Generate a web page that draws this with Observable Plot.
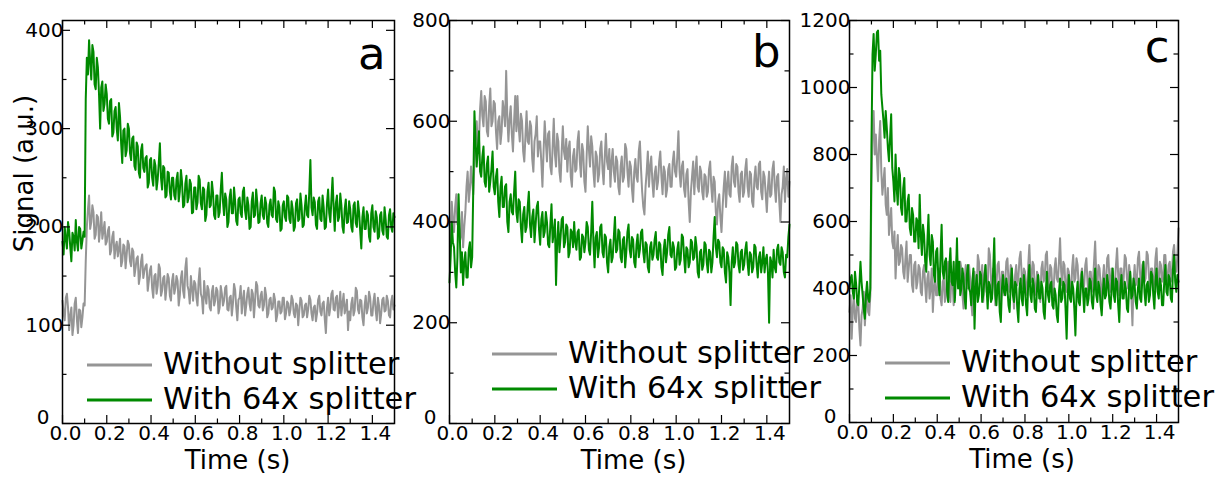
<!DOCTYPE html>
<html><head><meta charset="utf-8">
<script src="https://cdn.jsdelivr.net/npm/d3@7"></script>
<script src="https://cdn.jsdelivr.net/npm/@observablehq/plot@0.6"></script>
<style>
html,body{margin:0;padding:0;background:#fff;}
#chart{position:relative;width:1231px;height:482px;overflow:hidden;font-family:"DejaVu Sans",sans-serif;}
#chart svg{position:absolute;left:0;top:0;overflow:visible;background:transparent;max-width:none;}
</style></head><body><div id="chart"></div>
<script>
// ---- data (sampled every 0.005 s from t = 0.000 to 1.500; one row = 0.1 s) ----
const timeStep = 0.005;
const seriesNames = ["Without splitter", "With 64x splitter"];
const seriesColors = ["#959595", "#008a00"];
const panelLetters = ["a", "b", "c"];
const xMajorTicks = [0, 0.2, 0.4, 0.6, 0.8, 1.0, 1.2, 1.4];
const xMinorTicks = [0.1, 0.3, 0.5, 0.7, 0.9, 1.1, 1.3];
const yMajorA = [0, 100, 200, 300, 400];
const yMinorA = [50, 150, 250, 350];
const yMajorB = [0, 200, 400, 600, 800];
const yMinorB = [100, 300, 500, 700];
const yMajorC = [0, 200, 400, 600, 800, 1000, 1200];
const yMinorC = [100, 300, 500, 700, 900, 1100];

const aWithout = [
125,112,105,128,132,118,95,110,118,90,100,122,128,106,92,116,115,98,108,122,
120,165,200,218,232,198,205,222,215,188,192,212,210,185,198,215,188,196,205,182,
185,196,200,172,176,190,195,168,180,185,170,178,188,160,165,182,180,158,172,186,
182,165,160,178,175,150,158,168,170,142,150,165,172,148,155,160,162,135,145,156,
160,138,128,150,152,132,140,162,158,130,135,148,150,126,138,152,148,130,125,145,
152,132,138,150,145,120,130,148,155,135,128,158,168,140,135,122,150,138,125,145,
142,128,120,145,158,132,128,112,145,130,122,140,136,118,115,134,140,120,125,138,
135,112,118,140,132,120,125,138,140,116,115,128,130,110,122,142,136,118,105,126,
128,140,112,126,135,110,120,132,138,122,115,136,132,108,125,144,140,120,118,130,
134,115,120,138,130,108,112,126,128,116,118,132,126,104,110,124,124,112,114,128,
128,106,112,124,122,110,116,130,126,112,108,122,120,100,115,128,125,108,110,120,
122,108,116,130,126,112,105,118,120,104,112,126,130,114,110,122,124,106,92,118,
128,110,118,132,135,116,115,128,130,108,120,134,110,122,132,112,118,126,95,114,
105,122,128,110,115,138,135,116,112,126,125,108,100,120,130,112,118,134,128,110,
110,124,132,115,105,128,120,102,112,126,128,114,115,130,125,110,108,124,130,116,
120];
const aWith = [
185,172,200,188,178,205,196,180,165,194,190,176,207,185,176,200,198,178,186,195,
190,330,372,355,390,368,350,385,378,345,340,372,362,335,300,342,348,318,325,345,
335,310,305,328,330,292,296,318,322,300,288,326,312,285,265,298,300,272,278,305,
300,275,268,290,292,262,258,286,282,255,250,278,284,260,256,270,272,240,245,268,
270,250,242,268,262,238,248,265,285,250,238,262,260,230,232,256,255,236,228,250,
250,232,228,248,255,226,236,258,246,220,222,244,252,225,230,248,244,214,215,240,
240,218,225,252,248,224,218,240,238,206,212,236,245,220,222,246,235,212,208,232,
232,210,215,238,255,226,212,234,228,200,205,230,238,214,214,240,226,206,202,228,
230,214,210,236,240,216,208,230,222,198,200,226,235,210,212,238,225,204,205,224,
232,212,208,230,224,204,200,222,228,212,210,240,236,208,205,226,220,196,198,222,
226,210,206,232,230,208,204,226,218,196,200,224,228,206,208,234,222,200,202,220,
232,212,210,236,268,220,212,230,225,202,198,226,230,208,206,232,220,198,200,224,
238,214,205,228,250,220,196,224,232,206,210,234,222,200,194,218,228,204,205,226,
218,200,195,222,225,204,200,226,215,196,178,210,220,198,198,216,212,190,185,214,
222,200,195,216,210,188,190,212,215,196,192,220,208,190,188,212,218,200,195,214,
210];
const bWithout = [
400,360,440,405,380,430,455,395,410,360,370,420,350,390,420,470,500,440,465,510,
480,455,520,575,600,540,560,625,660,610,590,650,640,580,570,630,665,590,600,640,
635,580,545,600,610,555,580,640,620,590,700,610,560,605,630,575,540,600,650,580,
650,590,560,615,600,540,520,570,620,560,555,600,590,525,500,560,575,610,530,560,
560,520,470,540,600,560,520,575,580,510,495,550,605,535,510,575,560,500,480,540,
590,540,525,565,500,545,560,490,470,530,545,500,505,560,580,520,490,555,540,480,
460,530,590,545,510,570,550,500,470,540,530,480,495,545,560,505,475,530,575,520,
505,545,470,520,545,500,480,530,520,470,455,510,530,480,490,555,545,500,470,520,
510,465,440,500,525,490,480,540,560,505,460,430,415,470,500,540,470,510,530,480,
450,495,510,465,480,520,540,490,455,510,500,450,465,505,515,470,470,520,540,500,
490,530,580,500,470,510,520,465,450,495,505,440,400,460,490,520,455,500,530,470,
460,510,500,460,445,495,490,450,460,505,520,470,440,490,480,420,395,440,455,410,
380,430,470,500,430,475,500,455,450,510,530,480,470,515,510,460,440,495,500,450,
460,505,525,470,450,500,495,440,430,485,510,470,465,515,520,460,445,500,490,455,
420,470,500,450,455,505,520,470,440,490,495,440,400,455,470,510,440,485,505,450,
480];
const bWith = [
280,330,400,360,350,300,270,330,455,380,300,340,275,320,340,290,290,345,360,310,
330,470,620,560,510,545,580,500,490,530,550,480,470,515,530,460,480,505,540,470,
455,490,505,440,410,470,490,430,430,470,475,400,380,440,455,420,415,460,500,420,
400,445,440,390,360,415,430,380,390,430,460,395,370,410,425,360,395,430,440,385,
355,405,420,370,380,420,400,355,350,395,435,360,380,405,275,360,400,340,370,405,
410,350,360,395,390,330,340,385,380,350,400,360,345,380,385,325,330,375,370,340,
360,400,390,345,335,380,440,360,310,370,380,330,350,390,395,340,330,375,370,320,
300,350,365,320,330,370,410,340,345,385,380,330,320,365,370,310,340,380,395,345,
330,370,365,320,310,355,375,330,345,380,385,340,320,360,355,310,300,350,360,325,
335,365,380,330,325,360,355,310,295,345,365,320,340,375,390,335,330,360,350,305,
310,345,360,315,325,375,370,330,300,350,345,310,320,365,360,325,330,370,350,300,
290,340,345,305,315,360,355,320,300,345,340,300,320,370,410,350,330,365,360,320,
310,350,345,300,280,340,330,300,235,320,350,310,320,360,355,315,300,340,345,305,
315,345,360,320,295,340,335,300,310,355,350,315,290,330,340,300,320,350,300,325,
335,300,200,330,320,290,345,310,300,345,355,320,315,350,340,300,290,335,330,370,
395];
const cWithout = [
330,380,250,340,380,310,300,370,360,280,230,320,340,390,290,350,400,330,320,380,
700,880,930,800,860,790,720,840,900,750,680,720,760,650,620,700,560,600,640,540,
520,570,430,510,560,470,480,530,520,450,430,490,540,420,460,500,500,410,390,470,
480,400,420,470,460,390,380,450,470,410,360,430,450,370,400,460,330,400,440,380,
380,440,460,370,350,420,430,360,380,450,480,400,360,440,420,350,390,460,500,410,
410,480,460,380,340,430,470,410,400,470,430,360,320,420,450,390,390,500,480,420,
420,470,360,440,470,390,400,520,500,430,380,460,440,350,410,470,480,420,360,450,
450,380,420,480,490,420,390,470,460,400,340,440,470,410,430,490,510,440,400,460,
450,400,380,470,530,440,420,480,470,380,390,450,440,410,360,460,480,420,430,500,
510,430,400,470,460,400,380,460,490,430,420,480,550,450,410,480,470,400,390,460,
450,410,370,460,500,420,430,490,470,400,360,440,460,390,410,470,490,420,380,450,
450,390,420,480,540,440,400,470,460,410,350,430,470,400,420,490,500,430,390,460,
450,400,410,470,520,440,380,460,460,400,430,500,490,430,400,470,440,380,290,420,
470,410,420,490,510,440,400,470,480,420,430,510,500,440,390,460,460,400,420,490,
520,430,400,480,470,420,430,500,500,440,410,470,480,420,440,510,530,460,450,500,
580];
const cWith = [
400,430,440,390,370,450,415,360,350,410,480,420,380,340,310,380,420,370,360,400,
820,1100,1160,1050,1100,1165,1170,1080,1110,980,940,900,850,930,880,820,780,850,920,760,
720,660,800,700,650,760,740,640,620,700,730,600,600,660,680,580,560,640,620,540,
540,610,600,520,680,560,500,590,560,480,450,540,620,500,470,560,540,440,420,510,
520,430,380,500,590,450,430,480,490,390,360,460,520,420,410,480,360,430,550,400,
480,380,400,460,430,370,340,440,470,400,390,350,420,460,280,400,440,360,380,450,
440,360,380,430,470,400,340,420,410,360,370,450,550,380,350,410,420,330,300,400,
440,390,380,430,400,350,330,410,460,380,360,420,410,340,300,400,430,370,350,440,
400,350,320,420,470,380,360,430,410,340,330,400,440,370,370,420,400,330,310,390,
450,380,360,410,420,350,340,400,380,320,300,390,430,360,370,420,410,340,250,380,
440,370,360,420,400,340,260,380,420,360,350,410,450,390,330,400,400,350,370,430,
420,360,340,400,460,380,360,420,400,350,320,390,430,370,380,440,410,360,340,400,
460,380,360,430,420,350,300,400,440,370,370,420,400,340,330,410,450,370,380,430,
410,360,340,400,430,370,360,430,480,390,350,410,420,360,380,450,440,380,340,420,
460,390,370,430,410,350,350,420,470,390,380,440,430,370,360,460,500,420,390,440,
420];

// ---- layout ----
const W = 1231, H = 482;
const font = "DejaVu Sans";
const panels = [
  {letter: panelLetters[0], series: [aWithout, aWith], yDomain: [0, 410], yMajor: yMajorA, yMinor: yMinorA,
   frame: {left: 62, right: 394, top: 20, bottom: 423}, letterDy: 17, timeDx: 9, legendX: 87, legendY: [365, 400], ylabel: "Signal (a.u.)"},
  {letter: panelLetters[1], series: [bWithout, bWith], yDomain: [0, 800], yMajor: yMajorB, yMinor: yMinorB,
   frame: {left: 449, right: 789, top: 20, bottom: 423}, letterDy: 15, timeDx: 14, legendX: 492, legendY: [354, 389]},
  {letter: panelLetters[2], series: [cWithout, cWith], yDomain: [0, 1200], yMajor: yMajorC, yMinor: yMinorC,
   frame: {left: 849, right: 1178, top: 20, bottom: 422}, letterDy: 10, timeDx: 8, legendX: 885, legendY: [363, 398]}
];

const chart = document.getElementById("chart");

for (const p of panels) {
  const fw = p.frame.right - p.frame.left, fh = p.frame.bottom - p.frame.top;
  const rows = [];
  p.series.forEach((vals, k) => vals.forEach((v, i) => rows.push({t: +(i * timeStep).toFixed(3), v, s: seriesNames[k]})));
  const tk = {stroke: "black", strokeWidth: 1.2};
  const tx = {fill: "black", fontFamily: font};
  const yLab = p.yMajor.filter(d => d !== 0);
  const marks = [
    Plot.line(rows, {x: "t", y: "v", z: "s", stroke: "s", strokeWidth: 2}),
    Plot.frame({stroke: "black", strokeWidth: 1.5}),
    Plot.tickX(xMajorTicks, {x: d => d, insetTop: fh - 8, ...tk}),
    Plot.tickX(xMinorTicks, {x: d => d, insetTop: fh - 4.5, ...tk}),
    Plot.tickX(xMajorTicks, {x: d => d, insetBottom: fh - 8, ...tk}),
    Plot.tickX(xMinorTicks, {x: d => d, insetBottom: fh - 4.5, ...tk}),
    Plot.tickY(p.yMajor, {y: d => d, insetRight: fw - 8, ...tk}),
    Plot.tickY(p.yMinor, {y: d => d, insetRight: fw - 4.5, ...tk}),
    Plot.tickY(p.yMajor, {y: d => d, insetLeft: fw - 8, ...tk}),
    Plot.tickY(p.yMinor, {y: d => d, insetLeft: fw - 4.5, ...tk}),
    Plot.text(xMajorTicks, {x: d => d, text: d => d.toFixed(1), frameAnchor: "bottom", dy: 16, dx: 3, fontSize: 20, ...tx}),
    Plot.text(yLab, {y: d => d, text: d => String(d), frameAnchor: "left", textAnchor: "end", dx: 1, fontSize: 20, ...tx}),
    Plot.text([0], {y: d => d, text: d => String(d), frameAnchor: "left", textAnchor: "end", dx: -13, dy: -6, fontSize: 20, ...tx}),
    Plot.text([p.letter], {text: d => d, frameAnchor: "top-right", textAnchor: "end", lineAnchor: "top", dx: -9, dy: p.letterDy, fontSize: 45, ...tx}),
    Plot.text(["Time (s)"], {text: d => d, frameAnchor: "bottom", dy: 45.7, dx: p.timeDx, fontSize: 26, ...tx})
  ];
  if (p.ylabel) {
    marks.push(Plot.text([p.ylabel], {text: d => d, frameAnchor: "left", rotate: -90, textAnchor: "middle", dx: -37.5, dy: -48.5, fontSize: 26, ...tx}));
  }
  const svg = Plot.plot({
    width: W, height: H,
    marginLeft: p.frame.left, marginRight: W - p.frame.right,
    marginTop: p.frame.top, marginBottom: H - p.frame.bottom,
    x: {domain: [0, 1.5], axis: null},
    y: {domain: p.yDomain, axis: null},
    color: {domain: seriesNames, range: seriesColors},
    style: {fontFamily: font, background: "transparent", overflow: "visible"},
    marks
  });
  // legend
  const g = d3.select(svg).append("g").attr("font-family", font).attr("font-size", 30.5)
    .attr("fill", "black").attr("text-anchor", "start");
  seriesNames.forEach((name, k) => {
    const ly = p.legendY[k];
    g.append("line").attr("x1", p.legendX).attr("x2", p.legendX + 65).attr("y1", ly).attr("y2", ly)
      .attr("stroke", seriesColors[k]).attr("stroke-width", 3);
    g.append("text").attr("x", p.legendX + 76).attr("y", ly + 9).attr("text-anchor", "start").text(name);
  });
  chart.appendChild(svg);
}
</script></body></html>
